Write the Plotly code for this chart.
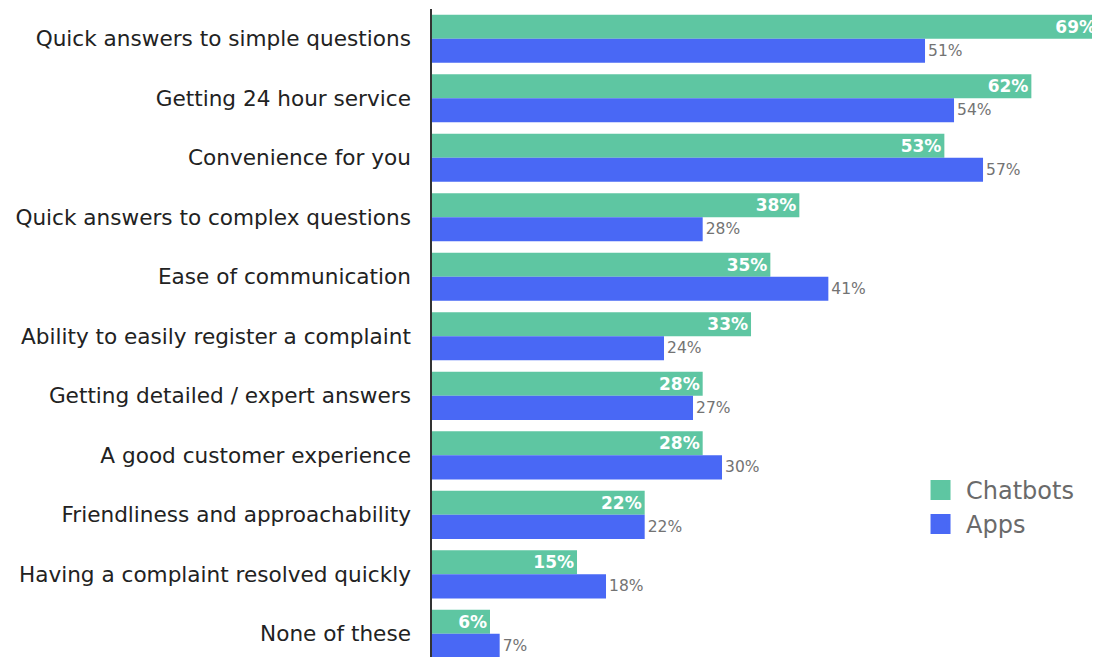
import plotly.graph_objects as go

categories = [
    "Quick answers to simple questions",
    "Getting 24 hour service",
    "Convenience for you",
    "Quick answers to complex questions",
    "Ease of communication",
    "Ability to easily register a complaint",
    "Getting detailed / expert answers",
    "A good customer experience",
    "Friendliness and approachability",
    "Having a complaint resolved quickly",
    "None of these",
]
chatbots = [69, 62, 53, 38, 35, 33, 28, 28, 22, 15, 6]
apps = [51, 54, 57, 28, 41, 24, 27, 30, 22, 18, 7]

GREEN = "#5EC6A2"
BLUE = "#4968F5"
FONT = "DejaVu Sans"

fig = go.Figure()
fig.add_trace(go.Bar(
    y=categories, x=chatbots, orientation="h", name="Chatbots",
    marker=dict(color=GREEN, line=dict(width=0)),
    texttemplate="<b>%{x}%</b>", textposition="inside", insidetextanchor="end",
    textfont=dict(color="white", size=17, family=FONT),
    constraintext="none",
    showlegend=False, cliponaxis=False, hoverinfo="skip",
))
fig.add_trace(go.Bar(
    y=categories, x=apps, orientation="h", name="Apps",
    marker=dict(color=BLUE, line=dict(width=0)),
    texttemplate="%{x}%", textposition="outside",
    textfont=dict(color="#737373", size=15.5, family=FONT),
    constraintext="none",
    showlegend=False, cliponaxis=False, hoverinfo="skip",
))
# legend entries with square markers
for name, col in [("Chatbots", GREEN), ("Apps", BLUE)]:
    fig.add_trace(go.Scatter(
        x=[None], y=[None], mode="markers", name=name,
        marker=dict(symbol="square", size=16, color=col,
                    line=dict(color=col, width=4)),
    ))

fig.update_layout(
    width=1100, height=657,
    margin=dict(l=424, r=8, t=1, b=8, autoexpand=False),
    paper_bgcolor="white", plot_bgcolor="white",
    barmode="group", bargap=0.19, bargroupgap=0,
    font=dict(family=FONT, color="#222222"),
    legend=dict(
        x=0.7231, y=0.292, xanchor="left", yanchor="top",
        font=dict(size=24, color="#6a6a6a", family=FONT),
        traceorder="normal", itemsizing="trace", itemwidth=41,
        bgcolor="rgba(0,0,0,0)", tracegroupgap=0,
    ),
    xaxis=dict(
        range=[0, 69.1], showgrid=False, zeroline=False,
        showticklabels=False, showline=False, fixedrange=True,
        automargin=False,
    ),
    yaxis=dict(
        categoryorder="array", categoryarray=categories,
        range=[10.39, -0.5], showgrid=False, zeroline=False,
        showline=True, linecolor="#333333", linewidth=1.5,
        ticks="", ticklabelstandoff=15, automargin=False,
        tickfont=dict(size=21.6, color="#222222", family=FONT),
    ),
)

fig.write_html("out.html")
